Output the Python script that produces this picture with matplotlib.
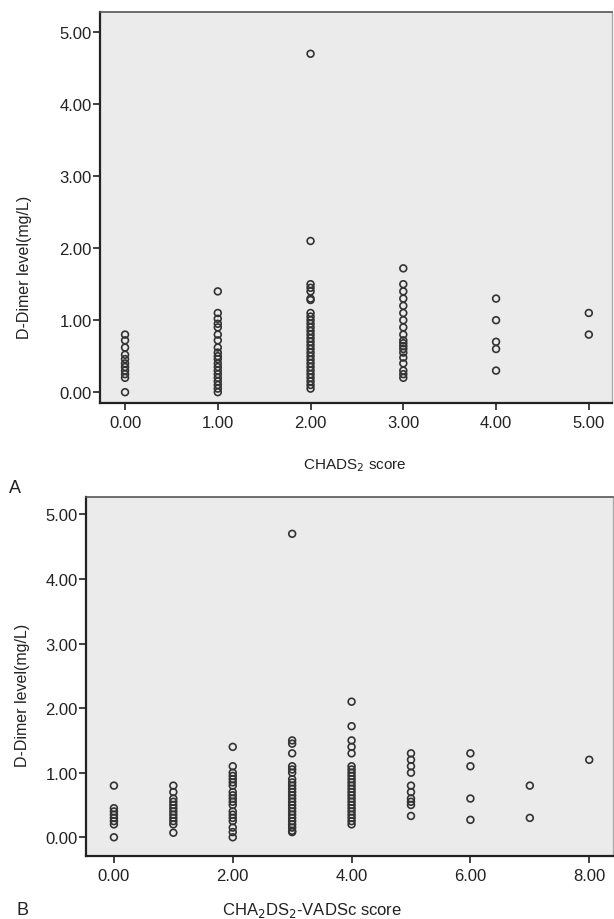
"""
Recreate the D-Dimer vs CHADS2 / CHA2DS2-VASc scatter panels (A and B).
"""

import matplotlib
matplotlib.use("Agg")
import matplotlib.pyplot as plt
import matplotlib.ticker as mticker

plt.rcParams["font.family"] = ["Liberation Sans", "DejaVu Sans"]

# Panel A: CHADS2 score -> D-Dimer values (mg/L)
CHADS_SCORES = [0, 1, 2, 3, 4, 5]
CHADS_DDIMER = [
    [0.80, 0.72, 0.62, 0.52, 0.46, 0.40, 0.35, 0.30, 0.25, 0.20, 0.00],
    [1.40, 1.10, 1.02, 0.95, 0.90, 0.80, 0.72, 0.62, 0.55, 0.50, 0.46, 0.40,
     0.35, 0.30, 0.25, 0.20, 0.15, 0.10, 0.05, 0.00],
    [4.70, 2.10, 1.50, 1.45, 1.40, 1.30, 1.28, 1.10, 1.05, 1.00, 0.95, 0.90,
     0.85, 0.80, 0.75, 0.70, 0.65, 0.60, 0.55, 0.50, 0.45, 0.40, 0.35, 0.30,
     0.25, 0.20, 0.15, 0.10, 0.05],
    [1.72, 1.50, 1.40, 1.30, 1.20, 1.10, 1.00, 0.90, 0.80, 0.72, 0.68, 0.64,
     0.60, 0.55, 0.48, 0.40, 0.30, 0.25, 0.20],
    [1.30, 1.00, 0.70, 0.60, 0.30],
    [1.10, 0.80],
]

# Panel B: CHA2DS2-VASc score -> D-Dimer values (mg/L)
VASC_SCORES = [0, 1, 2, 3, 4, 5, 6, 7, 8]
VASC_DDIMER = [
    [0.80, 0.45, 0.40, 0.35, 0.30, 0.25, 0.20, 0.00],
    [0.80, 0.70, 0.60, 0.55, 0.50, 0.45, 0.40, 0.35, 0.30, 0.25, 0.20, 0.07],
    [1.40, 1.10, 1.00, 0.95, 0.90, 0.85, 0.80, 0.70, 0.65, 0.60, 0.55, 0.50,
     0.40, 0.35, 0.30, 0.25, 0.15, 0.08, 0.00],
    [4.70, 1.50, 1.45, 1.30, 1.10, 1.05, 1.00, 0.90, 0.85, 0.80, 0.75, 0.70,
     0.65, 0.60, 0.55, 0.50, 0.45, 0.40, 0.35, 0.30, 0.25, 0.20, 0.15, 0.10,
     0.08],
    [2.10, 1.72, 1.50, 1.40, 1.30, 1.10, 1.05, 1.00, 0.95, 0.90, 0.85, 0.80,
     0.75, 0.70, 0.65, 0.60, 0.55, 0.50, 0.45, 0.40, 0.35, 0.30, 0.25, 0.20],
    [1.30, 1.20, 1.10, 1.00, 0.80, 0.70, 0.60, 0.55, 0.50, 0.33],
    [1.30, 1.10, 0.60, 0.27],
    [0.80, 0.30],
    [1.20],
]

Y_TICKS = [0, 1, 2, 3, 4, 5]
A_XTICKS = [0, 1, 2, 3, 4, 5]
B_XTICKS = [0, 2, 4, 6, 8]

BG = "#ebebeb"
EDGE = "#333333"
TXT = "#222222"


def style_axes(ax):
    ax.set_facecolor(BG)
    for side in ["left", "bottom"]:
        ax.spines[side].set_color(TXT)
        ax.spines[side].set_linewidth(1.6)
    ax.spines["top"].set_color("#555555")
    ax.spines["top"].set_linewidth(1.2)
    ax.spines["right"].set_color("#aaaaaa")
    ax.spines["right"].set_linewidth(1.0)
    ax.tick_params(direction="out", length=5, width=1.2, color=TXT,
                   labelsize=12, labelcolor=TXT)
    ax.tick_params(axis="y", pad=1)
    ax.yaxis.set_major_formatter(mticker.FormatStrFormatter("%.2f"))
    ax.xaxis.set_major_formatter(mticker.FormatStrFormatter("%.2f"))


def scatter_panel(ax, scores, values):
    for s, vals in zip(scores, values):
        ax.scatter([s] * len(vals), vals, s=24, facecolors="none",
                   edgecolors=EDGE, linewidths=1.2, zorder=3)


fig = plt.figure(figsize=(6.14, 9.2), dpi=100)

# Panel A
axA = fig.add_axes([100 / 614, 1 - 404 / 920, 512 / 614, 391 / 920])
scatter_panel(axA, CHADS_SCORES, CHADS_DDIMER)
style_axes(axA)
axA.set_xlim(-0.27, 5.25)
axA.set_ylim(-0.15, 5.28)
axA.set_xticks(A_XTICKS)
axA.set_yticks(Y_TICKS)
axA.set_ylabel("D-Dimer level(mg/L)", fontsize=11.5, color=TXT)
axA.yaxis.set_label_coords(-0.133, 0.35)
fig.text(355 / 614, 1 - 466 / 920, "CHADS$_2$ score", ha="center", va="center",
         fontsize=11, color=TXT)
fig.text(15 / 614, 1 - 489 / 920, "A", ha="center", va="center",
         fontsize=13, color=TXT)

# Panel B
axB = fig.add_axes([86 / 614, 1 - 857 / 920, 527 / 614, 359 / 920])
scatter_panel(axB, VASC_SCORES, VASC_DDIMER)
style_axes(axB)
axB.set_xlim(-0.47, 8.40)
axB.set_ylim(-0.29, 5.27)
axB.set_xticks(B_XTICKS)
axB.set_yticks(Y_TICKS)
axB.set_ylabel("D-Dimer level(mg/L)", fontsize=11.5, color=TXT)
axB.yaxis.set_label_coords(-0.106, 0.45)
fig.text(312 / 614, 1 - 911 / 920, "CHA$_2$DS$_2$-VADSc score", ha="center", va="center",
         fontsize=12, color=TXT)
fig.text(22 / 614, 1 - 911 / 920, "B", ha="center", va="center",
         fontsize=13, color=TXT)

fig.savefig("out.png", dpi=100, facecolor="white")
